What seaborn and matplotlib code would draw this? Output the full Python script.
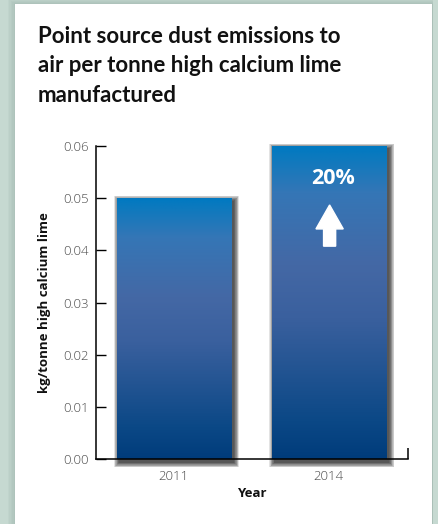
import numpy as np
import matplotlib
matplotlib.use("Agg")
import matplotlib.pyplot as plt
import seaborn as sns
from matplotlib.colors import LinearSegmentedColormap
from matplotlib.patches import Rectangle, FancyArrow

years = ["2011", "2014"]
dust = [0.05, 0.06]
change_label = "20%"
title = "Point source dust emissions to\nair per tonne high calcium lime\nmanufactured"

sns.set_theme(style="white")
plt.rcParams["font.family"] = ["Open Sans", "DejaVu Sans"]

W, H = 438, 524
fig = plt.figure(figsize=(W / 100, H / 100), dpi=100)
fig.patch.set_facecolor("#c6d9d1")

# white card with a soft shadow on the left
for i in range(6):
    fig.patches.append(Rectangle(((15 - 1.5 * i) / W, 0), (418 + 1.5 * i) / W, (H - 4 + i) / H,
                                 transform=fig.transFigure, facecolor="#7f9890",
                                 alpha=0.07, edgecolor="none", zorder=0))
fig.patches.append(Rectangle((15 / W, 0), 417 / W, (H - 4) / H, transform=fig.transFigure,
                             facecolor="white", edgecolor="none", zorder=1))

fig.text(38 / W, (H - 26) / H, title, ha="left", va="top", fontsize=16,
         fontweight="bold", family=["Lato", "DejaVu Sans"], color="#111111",
         linespacing=1.5, zorder=3)

ax = fig.add_axes([96 / W, (H - 459) / H, (408 - 96) / W, (459 - 146) / H])
ax.set_zorder(2)
ax.patch.set_alpha(0)

sns.barplot(x=years, y=dust, width=0.735, color="#3f67a4", ax=ax)

ax.set_xlim(-0.5, 1.51)
ax.set_ylim(0, 0.06)
ax.set_yticks(np.arange(0, 0.061, 0.01))
ax.set_yticklabels([f"{v:.2f}" for v in np.arange(0, 0.061, 0.01)])

cmap = LinearSegmentedColormap.from_list(
    "bar", [(0.0, "#003c7b"), (0.12, "#0b4886"), (0.45, "#3a609e"),
            (0.62, "#4468a5"), (0.85, "#3576b6"), (0.95, "#1279bd"), (1.0, "#0079c1")])
grad = np.linspace(0, 1, 256).reshape(-1, 1)

px = 1 / 155.0          # one pixel in category units
py = 0.06 / 313.0       # one pixel in data units
for bar in ax.patches:
    x0, w, h = bar.get_x(), bar.get_width(), bar.get_height()
    # blurred drop shadow
    for r in range(9, 0, -1):
        ax.add_patch(Rectangle((x0 + (3 - r * 0.6) * px, -(3 + r * 0.6) * py),
                               w + r * 1.2 * px, h + r * 1.2 * py,
                               facecolor="black", edgecolor="none", alpha=0.11,
                               zorder=1, clip_on=False))
    im = ax.imshow(grad, extent=(x0, x0 + w, 0, h), origin="lower", cmap=cmap,
                   aspect="auto", zorder=2)
    im.set_clip_path(bar)
    bar.set_facecolor("none")
    bar.set_edgecolor("none")
ax.set_xlim(-0.5, 1.51)
ax.set_ylim(0, 0.06)

# change annotation on the 2014 bar
top = dust[1]
ax.text(1.03, top - 0.0082, change_label, color="white", fontsize=15.5,
        fontweight="bold", ha="center", va="bottom", zorder=4)
ax.add_patch(FancyArrow(1.005, top - 0.0192, 0, 0.0079, width=0.078,
                        head_width=0.176, head_length=0.0046,
                        length_includes_head=True, color="white", zorder=4))

sns.despine(ax=ax)
for s in ("left", "bottom"):
    ax.spines[s].set_color("black")
    ax.spines[s].set_linewidth(1.1)
ax.spines["bottom"].set_zorder(3)
ax.tick_params(axis="y", direction="in", length=7, width=1, color="black",
               labelsize=9.5, labelcolor="#4a4a4a", pad=5, left=True)
ax.tick_params(axis="x", length=0, labelsize=9.5, labelcolor="#4a4a4a", pad=8)
for lab in ax.get_xticklabels() + ax.get_yticklabels():
    lab.set_fontweight("light")
ax.set_xticks([1.51], minor=True)
ax.tick_params(axis="x", which="minor", direction="in", length=8, width=1.1,
               color="black", bottom=True)

ax.set_xlabel("Year", fontsize=9.5, fontweight="bold", color="#111111", labelpad=3)
ax.set_ylabel("kg/tonne high calcium lime", fontsize=9.5, fontweight="bold",
              color="#111111", labelpad=9)

fig.savefig("out.png", dpi=100, facecolor=fig.get_facecolor())
